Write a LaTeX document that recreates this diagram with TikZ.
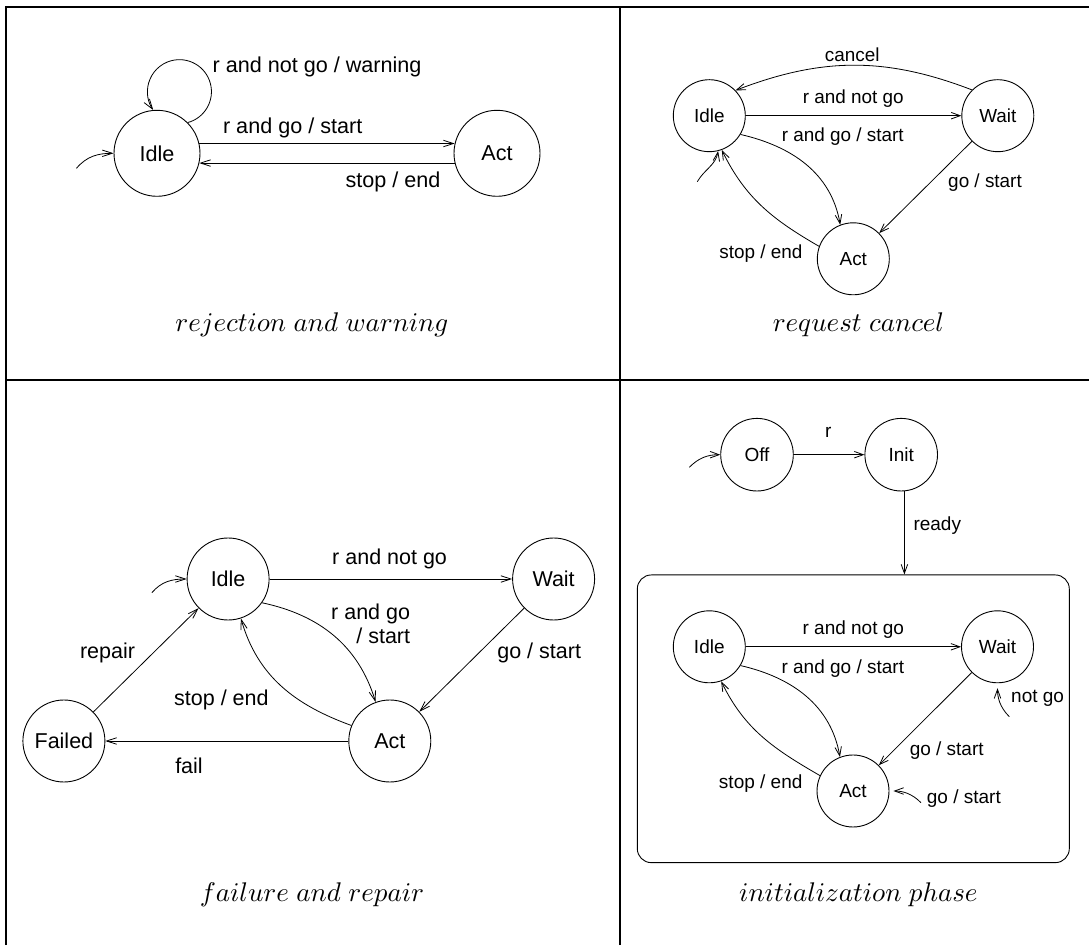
\documentclass[tikz,border=0pt]{standalone}
\usepackage{fontspec}
\setmainfont{Liberation Sans}
\DeclareFontShape{OML}{cmm}{m}{it}{<-> cmmi10}{\skewchar\font=127}
\usetikzlibrary{arrows.meta}
\begin{document}
\begin{tikzpicture}[x=1pt,y=1pt,
  st/.style={circle,draw,line width=0.9pt,inner sep=0,minimum size=#1},
  lb/.style={inner sep=0},
  arr/.style={-{Straight Barb[length=#1,width=6.5pt]},line width=0.8pt},
  arr/.default=10pt,
  frame/.style={line width=2pt},
  captxt/.style={inner sep=0,anchor=base,font=\fontsize{27}{32}\selectfont}]
\useasboundingbox (0,0) rectangle (1089,945);
% table frame
\draw[frame] (5.5,0) -- (5.5,938.3) -- (1089,938.3);
\draw[frame] (620,0) -- (620,938.3);
\draw[frame] (5.5,564.5) -- (1089,564.5);

% ---------- panel 1
\begin{scope}[font=\fontsize{21.6}{26}\selectfont]
\node[st=86pt] (I1) at (157,791.7) {Idle};
\node[st=86pt] (A1) at (497,791.7) {Act};
\coordinate (s1) at (76.5,776.7);
\draw[arr] (s1) to[out=50,in=180] (I1.west);
\draw[arr] (I1.45) arc[start angle=-75,end angle=215,radius=32];
\draw[arr] (I1.13) -- (A1.167);
\draw[arr] (A1.193) -- (I1.-13);
\node[lb,anchor=west] (l1a) at (212.4,878.3) {r and not go / warning};
\node[lb] (l1b) at (292.7,816.7) {r and go / start};
\node[lb] (l1c) at (393,763.3) {stop / end};
\end{scope}
\node[captxt] (c1) at (312,613.3) {$rejection\ and\ warning$};

% ---------- panel 2
\begin{scope}[font=\fontsize{18.9}{23}\selectfont]
\node[st=72pt] (I2) at (709.3,829.3) {Idle};
\node[st=72pt] (W2) at (997.8,829.3) {Wait};
\node[st=72pt] (A2) at (853.3,686.2) {Act};
\coordinate (s2) at (697.3,763.3);
\draw[arr=9pt] (s2) to[out=60,in=-100] (I2.-76);
\draw[arr=9pt] (W2.135) to[out=159,in=21] (I2.44);
\draw[arr=9pt] (I2) -- (W2);
\draw[arr=9pt] (I2.-31) to[out=-13,in=100] (A2.111);
\draw[arr=9pt] (A2.160) to[out=150,in=-64] (I2.-70);
\draw[arr=9pt] (W2) -- (A2);
\node[lb] (l2a) at (852.3,890.7) {cancel};
\node[lb] (l2b) at (853.3,846.7) {r and not go};
\node[lb] (l2c) at (842.8,808.3) {r and go / start};
\node[lb] (l2d) at (760.8,691.7) {stop / end};
\node[lb] (l2e) at (985,762.7) {go / start};
\end{scope}
\node[captxt] (c2) at (858.5,613.3) {$request\ cancel$};

% ---------- panel 3
\begin{scope}[font=\fontsize{21.5}{24.3}\selectfont]
\node[st=82pt] (I3) at (228.1,366) {Idle};
\node[st=82pt] (W3) at (553.6,366) {Wait};
\node[st=82pt] (A3) at (389.8,204) {Act};
\node[st=82pt] (F3) at (63.9,204) {Failed};
\coordinate (s3) at (151.9,352.3);
\draw[arr] (s3) to[out=50,in=180] (I3.west);
\draw[arr] (I3) -- (W3);
\draw[arr] (I3.-35.5) to[out=-12,in=107] (A3.110.5);
\draw[arr] (A3.158) to[out=160,in=-74] (I3.-72.5);
\draw[arr] (W3) -- (A3);
\draw[arr] (F3) -- (I3);
\draw[arr] (A3) -- (F3);
\node[lb] (l3a) at (389.6,386) {r and not go};
\node[lb,align=right,anchor=east] (l3b) at (410.3,321.2) {r and go\\/ start};
\node[lb] (l3c) at (221.4,245) {stop / end};
\node[lb] (l3d) at (539.2,291.7) {go / start};
\node[lb] (l3e) at (107.5,291.7) {repair};
\node[lb] (l3f) at (189,179.3) {fail};
\end{scope}
\node[captxt] (c3) at (312,44) {$failure\ and\ repair$};

% ---------- panel 4
\begin{scope}[font=\fontsize{19}{23}\selectfont]
\node[st=72.6pt] (Off) at (757,490.3) {Off};
\node[st=72.6pt] (Ini) at (901.2,490.3) {Init};
\node[draw,rounded corners=14pt,line width=0.9pt,minimum width=432pt,minimum height=287.7pt,inner sep=0] (box) at (853.3,226.2) {};
\node[st=72pt] (I4) at (709.3,298.2) {Idle};
\node[st=72pt] (W4) at (997.5,298.2) {Wait};
\node[st=72pt] (A4) at (853,154) {Act};
\coordinate (s4) at (689.3,477.7);
\draw[arr=9pt] (s4) to[out=45,in=180] (Off.west);
\draw[arr=9pt] (Off) -- (Ini);
\draw[arr=9pt] (Ini.-85) -- (Ini.-85 |- box.north);
\draw[arr=9pt] (I4) -- (W4);
\draw[arr=9pt] (I4.-31.5) to[out=-13,in=100] (A4.111);
\draw[arr=9pt] (A4.155) to[out=150,in=-64] (I4.-71.6);
\draw[arr=9pt] (W4) -- (A4);
\coordinate (s5) at (1009.3,228.3);
\draw[arr=9pt,shorten >=5pt] (s5) to[out=135,in=-90] (W4.south);
\coordinate (s6) at (921,142.3);
\draw[arr=9pt,shorten >=4pt] (s6) to[out=135,in=0] (A4.east);
\node[lb] (l4a) at (828.3,512.3) {r};
\node[lb,anchor=west] (l4b) at (913.3,419.3) {ready};
\node[lb] (l4c) at (853.3,315) {r and not go};
\node[lb] (l4d) at (842.8,276) {r and go / start};
\node[lb] (l4e) at (760.7,161) {stop / end};
\node[lb] (l4f) at (946.7,194.3) {go / start};
\node[lb,anchor=west] (l4g) at (1011,246.7) {not go};
\node[lb,anchor=west] (l4h) at (926.7,146.7) {go / start};
\end{scope}
\node[captxt] (c4) at (858.5,44) {$initialization\ phase$};
\end{tikzpicture}
\end{document}
